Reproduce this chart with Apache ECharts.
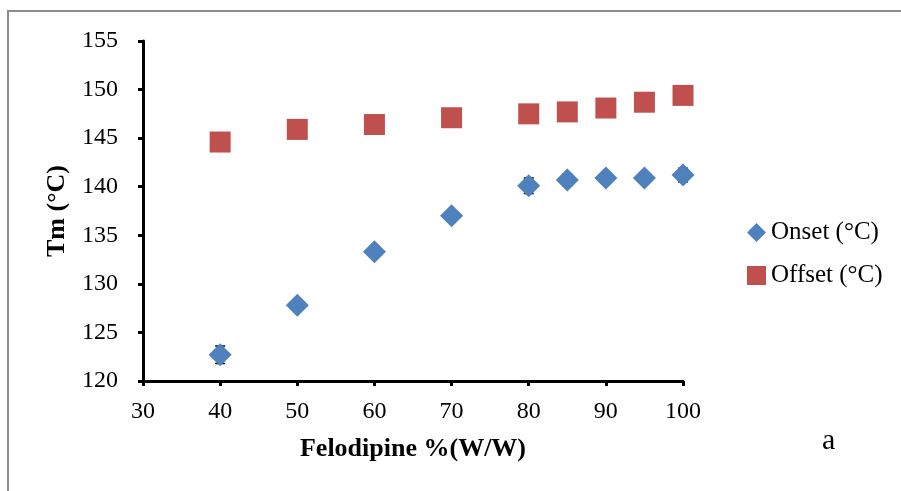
<!DOCTYPE html>
<html>
<head>
<meta charset="utf-8">
<script src="https://cdn.jsdelivr.net/npm/echarts@6/dist/echarts.min.js"></script>
<style>html,body{margin:0;padding:0;background:#fff}#c{width:901px;height:491px}</style>
</head>
<body>
<div id="c"></div>
<script>
var xValues = [40, 50, 60, 70, 80, 85, 90, 95, 100];
var onset = [122.7, 127.8, 133.3, 137.0, 140.1, 140.7, 140.9, 140.9, 141.2];
var onsetErr = [0.9, 0.3, 0.3, 0.3, 0.8, 0.6, 0.5, 0.4, 0.7];
var offset = [144.6, 145.9, 146.4, 147.1, 147.5, 147.7, 148.1, 148.7, 149.4];
var offsetErr = [0.5, 0.5, 0.5, 0.5, 0.5, 0.5, 0.5, 0.5, 0.5];
var xTicks = [30, 40, 50, 60, 70, 80, 90, 100];
var yTicks = [120, 125, 130, 135, 140, 145, 150, 155];

var FONT = '"Liberation Serif", "Times New Roman", serif';

function pts(ys) { return xValues.map(function (x, i) { return [x, ys[i]]; }); }
function errData(ys, es) { return xValues.map(function (x, i) { return [x, ys[i] - es[i], ys[i] + es[i]]; }); }

function errRender(params, api) {
  var x = api.value(0);
  var lo = api.coord([x, api.value(1)]);
  var hi = api.coord([x, api.value(2)]);
  var w = 5;
  var st = { stroke: '#000', lineWidth: 1.5 };
  return {
    type: 'group',
    children: [
      { type: 'line', shape: { x1: lo[0], y1: lo[1], x2: hi[0], y2: hi[1] }, style: st },
      { type: 'line', shape: { x1: lo[0] - w, y1: lo[1], x2: lo[0] + w, y2: lo[1] }, style: st },
      { type: 'line', shape: { x1: hi[0] - w, y1: hi[1], x2: hi[0] + w, y2: hi[1] }, style: st }
    ]
  };
}

var chart = echarts.init(document.getElementById('c'), null, { renderer: 'canvas' });
chart.setOption({
  animation: false,
  backgroundColor: '#fff',
  textStyle: { fontFamily: FONT },
  graphic: [
    { type: 'rect', shape: { x: 8, y: 11, width: 1000, height: 600 }, style: { fill: 'none', stroke: '#8c8c8c', lineWidth: 2 }, z: -1 },
    { type: 'text', left: 822, top: 426, style: { text: 'a', font: '30px ' + FONT, fill: '#000' } }
  ],
  grid: { left: 143, right: 218, top: 41, bottom: 110, containLabel: false },
  legend: {
    orient: 'vertical',
    left: 742,
    top: 215,
    itemWidth: 19,
    itemHeight: 19,
    itemGap: 18,
    textStyle: { fontFamily: FONT, fontSize: 25, color: '#000' },
    data: [
      { name: 'Onset (°C)', icon: 'diamond' },
      { name: 'Offset (°C)', icon: 'rect' }
    ]
  },
  xAxis: {
    type: 'value',
    min: 30, max: 100, interval: 10,
    name: 'Felodipine %(W/W)',
    nameLocation: 'middle',
    nameGap: 55,
    nameTextStyle: { fontFamily: FONT, fontSize: 26, fontWeight: 'bold', color: '#000' },
    axisLine: { show: true, onZero: false, lineStyle: { color: '#000', width: 3 } },
    axisTick: { show: true, length: 5, lineStyle: { color: '#000', width: 3 } },
    axisLabel: { margin: 19, fontFamily: FONT, fontSize: 24, color: '#000',
      formatter: function (v) { return xTicks.indexOf(v) >= 0 ? String(v) : ''; } },
    splitLine: { show: false }
  },
  yAxis: {
    type: 'value',
    min: 120, max: 155, interval: 5,
    name: 'Tm (°C)',
    nameLocation: 'middle',
    nameGap: 73,
    nameTextStyle: { fontFamily: FONT, fontSize: 26, fontWeight: 'bold', color: '#000' },
    axisLine: { show: true, onZero: false, lineStyle: { color: '#000', width: 3 } },
    axisTick: { show: true, length: 5, lineStyle: { color: '#000', width: 3 } },
    axisLabel: { margin: 25, fontFamily: FONT, fontSize: 24, color: '#000',
      formatter: function (v) { return yTicks.indexOf(v) >= 0 ? String(v) : ''; } },
    splitLine: { show: false }
  },
  series: [
    { name: 'OnsetErr', type: 'custom', renderItem: errRender, data: errData(onset, onsetErr), z: 1, silent: true },
    { name: 'OffsetErr', type: 'custom', renderItem: errRender, data: errData(offset, offsetErr), z: 1, silent: true },
    { name: 'Onset (°C)', type: 'scatter', symbol: 'diamond', symbolSize: [23, 23], data: pts(onset),
      itemStyle: { color: '#4F81BD', opacity: 1 }, z: 3 },
    { name: 'Offset (°C)', type: 'scatter', symbol: 'rect', symbolSize: [21, 21], data: pts(offset),
      itemStyle: { color: '#C0504D', opacity: 1 }, z: 3 }
  ]
});
</script>
</body>
</html>
